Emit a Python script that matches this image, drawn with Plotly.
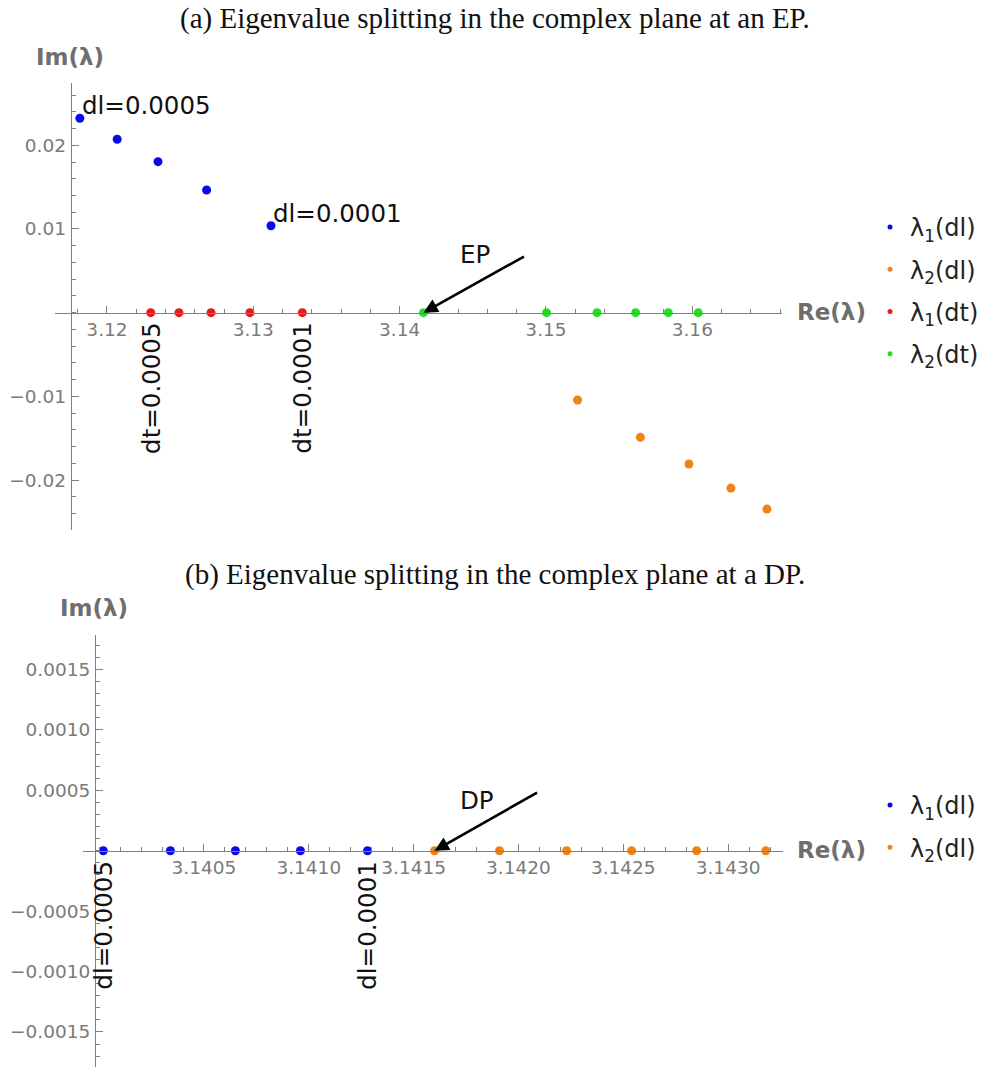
import plotly.graph_objects as go

# ---------------- data ----------------
# (a) EP
ep_l1_dl_re = [3.11815, 3.12070, 3.12349, 3.12681, 3.13121]
ep_l1_dl_im = [0.02323, 0.02072, 0.01804, 0.01466, 0.01039]
ep_l2_dl_re = [3.15216, 3.15645, 3.15977, 3.16264, 3.16510]
ep_l2_dl_im = [-0.01043, -0.01489, -0.01808, -0.02095, -0.02346]
ep_l1_dt_re = [3.12299, 3.12492, 3.12711, 3.12977, 3.13335]
ep_l1_dt_im = [0, 0, 0, 0, 0]
ep_l2_dt_re = [3.14163, 3.15004, 3.15349, 3.15613, 3.15836, 3.16041]
ep_l2_dt_im = [0, 0, 0, 0, 0, 0]
ep_point = (3.14163, 0.0)

# (b) DP
dp_l1_dl_re = [3.14002, 3.14034, 3.14065, 3.14096, 3.14128]
dp_l1_dl_im = [0, 0, 0, 0, 0]
dp_l2_dl_re = [3.14160, 3.14191, 3.14223, 3.14254, 3.14285, 3.14318]
dp_l2_dl_im = [0, 0, 0, 0, 0, 0]
dp_point = (3.14160, 0.0)

top_xticks = [3.12, 3.13, 3.14, 3.15, 3.16]
top_xticktext = ["3.12", "3.13", "3.14", "3.15", "3.16"]
top_yticks = [-0.02, -0.01, 0.01, 0.02]
top_yticktext = ["\u22120.02", "\u22120.01", "0.01", "0.02"]
bot_xticks = [3.1405, 3.1410, 3.1415, 3.1420, 3.1425, 3.1430]
bot_xticktext = ["3.1405", "3.1410", "3.1415", "3.1420", "3.1425", "3.1430"]
bot_yticks = [-0.0015, -0.0010, -0.0005, 0.0005, 0.0010, 0.0015]
bot_yticktext = ["\u22120.0015", "\u22120.0010", "\u22120.0005", "0.0005", "0.0010", "0.0015"]

legend_top = ["\u03bb<sub>1</sub>(dl)", "\u03bb<sub>2</sub>(dl)", "\u03bb<sub>1</sub>(dt)", "\u03bb<sub>2</sub>(dt)"]
legend_bot = ["\u03bb<sub>1</sub>(dl)", "\u03bb<sub>2</sub>(dl)"]

BLUE = "#0a0ae8"
ORANGE = "#ee8418"
RED = "#e31b1b"
GREEN = "#2adc2a"
GRAY = "#7a7a7a"
AXGRAY = "#808080"

W, H = 990, 1067

fig = go.Figure()

def pts(x, y, color, xa, ya):
    fig.add_trace(go.Scatter(x=x, y=y, mode="markers", xaxis=xa, yaxis=ya,
                             marker=dict(color=color, size=9, line=dict(width=0)),
                             showlegend=False, hoverinfo="skip"))

def leg(name, color, legend, group):
    fig.add_trace(go.Scatter(x=[None], y=[None], mode="markers", name=name,
                             legend=legend, legendgroup=group,
                             marker=dict(color=color, size=5), xaxis="x", yaxis="y"))

# top
pts(ep_l1_dl_re, ep_l1_dl_im, BLUE, "x", "y")
pts(ep_l2_dl_re, ep_l2_dl_im, ORANGE, "x", "y")
pts(ep_l1_dt_re, ep_l1_dt_im, RED, "x", "y")
pts(ep_l2_dt_re, ep_l2_dt_im, GREEN, "x", "y")
# bottom
pts(dp_l1_dl_re, dp_l1_dl_im, BLUE, "x2", "y2")
pts(dp_l2_dl_re, dp_l2_dl_im, ORANGE, "x2", "y2")

for n, c, g in zip(legend_top, [BLUE, ORANGE, RED, GREEN], ["a", "b", "c", "d"]):
    leg(n, c, "legend", g)
for n, c, g in zip(legend_bot, [BLUE, ORANGE], ["e", "f"]):
    leg(n, c, "legend2", g)

tickfont = dict(family="DejaVu Sans", size=18.5, color=GRAY)

def xax(domain, rng, pos, tv, tt, dminor):
    return dict(domain=domain, range=rng, anchor="free", position=pos,
                showgrid=False, zeroline=False, showline=True, linecolor=AXGRAY, linewidth=1,
                ticks="inside", ticklen=7, tickcolor=AXGRAY, tickmode="array",
                tickvals=tv, ticktext=tt, tickfont=tickfont,
                minor=dict(ticks="inside", ticklen=4, tickcolor=AXGRAY, dtick=dminor,
                           tick0=tv[0], showgrid=False),
                fixedrange=True)

def yax(domain, rng, pos, tv, tt, dminor):
    return dict(domain=domain, range=rng, anchor="free", position=pos,
                showgrid=False, zeroline=False, showline=True, linecolor=AXGRAY, linewidth=1,
                ticks="inside", ticklen=7, tickcolor=AXGRAY, tickmode="array",
                tickvals=tv, ticktext=tt, tickfont=tickfont, ticklabelstandoff=1,
                minor=dict(ticks="inside", ticklen=4, tickcolor=AXGRAY, dtick=dminor,
                           tick0=0, showgrid=False),
                fixedrange=True)

legfont = dict(family="DejaVu Sans", size=24, color="#222222")

fig.update_layout(
    width=W, height=H, margin=dict(l=0, r=0, t=0, b=0),
    paper_bgcolor="white", plot_bgcolor="rgba(0,0,0,0)",
    xaxis=xax([55 / W, 782 / W], [3.11645, 3.16613], 1 - 312.7 / H,
              top_xticks, top_xticktext, 0.002),
    yaxis=yax([1 - 530 / H, 1 - 83 / H], [-0.02596, 0.02744], 70.7 / W,
              top_yticks, top_yticktext, 0.002),
    xaxis2=xax([83 / W, 783 / W], [3.139923, 3.143262], 1 - 850.7 / H,
               bot_xticks, bot_xticktext, 0.0001),
    yaxis2=yax([0, 1 - 635 / H], [-0.00179, 0.001786], 95 / W,
               bot_yticks, bot_yticktext, 0.0001),
    legend=dict(x=870 / W, y=1 - 205 / H, xanchor="left", yanchor="top",
                font=legfont, tracegroupgap=8, bgcolor="rgba(0,0,0,0)", itemclick=False),
    legend2=dict(x=870 / W, y=1 - 783 / H, xanchor="left", yanchor="top",
                 font=legfont, tracegroupgap=8, bgcolor="rgba(0,0,0,0)", itemclick=False),
    showlegend=True,
)

ann = []
serif = dict(family="Liberation Serif", size=29, color="#111111")
ann.append(dict(text="(a) Eigenvalue splitting in the complex plane at an EP.", x=0.5, y=1,
                xref="paper", yref="paper", showarrow=False, font=serif, xanchor="center", yanchor="top"))
ann.append(dict(text="(b) Eigenvalue splitting in the complex plane at a DP.", x=0.5, y=1 - 574 / H,
                xref="paper", yref="paper", showarrow=False, font=serif, xanchor="center", yanchor="middle"))

axlab = dict(family="DejaVu Sans", size=23, color="#6e6e6e")
ann.append(dict(text="<b>Im(\u03bb)</b>", x=70 / W, y=1 - 57 / H, xref="paper", yref="paper",
                showarrow=False, font=axlab, xanchor="center", yanchor="middle"))
ann.append(dict(text="<b>Re(\u03bb)</b>", x=795 / W, y=1 - 312 / H, xref="paper", yref="paper",
                showarrow=False, font=axlab, xanchor="left", yanchor="middle"))
ann.append(dict(text="<b>Im(\u03bb)</b>", x=94 / W, y=1 - 608 / H, xref="paper", yref="paper",
                showarrow=False, font=axlab, xanchor="center", yanchor="middle"))
ann.append(dict(text="<b>Re(\u03bb)</b>", x=795 / W, y=1 - 850 / H, xref="paper", yref="paper",
                showarrow=False, font=axlab, xanchor="left", yanchor="middle"))

lab = dict(family="DejaVu Sans", size=24.5, color="#111111")
# top labels
ann.append(dict(text="dl=0.0005", x=ep_l1_dl_re[0], y=ep_l1_dl_im[0], xref="x", yref="y",
                showarrow=False, font=lab, xanchor="left", yanchor="bottom", xshift=0, yshift=-4))
ann.append(dict(text="dl=0.0001", x=ep_l1_dl_re[-1], y=ep_l1_dl_im[-1], xref="x", yref="y",
                showarrow=False, font=lab, xanchor="left", yanchor="bottom", xshift=0, yshift=-4))
ann.append(dict(text="dt=0.0005", x=ep_l1_dt_re[0], y=0, xref="x", yref="y", textangle=-90,
                showarrow=False, font=lab, xanchor="center", yanchor="top", yshift=-8))
ann.append(dict(text="dt=0.0001", x=ep_l1_dt_re[-1], y=0, xref="x", yref="y", textangle=-90,
                showarrow=False, font=lab, xanchor="center", yanchor="top", yshift=-8))
ann.append(dict(text="EP", x=ep_point[0], y=ep_point[1], xref="x", yref="y", showarrow=False,
                font=lab, xanchor="center", yanchor="middle", xshift=52, yshift=58))
ann.append(dict(text="", x=ep_point[0], y=ep_point[1], xref="x", yref="y", showarrow=True,
                ax=102, ay=-57, arrowhead=2, arrowsize=1.1, arrowwidth=2.6, arrowcolor="#000000",
                standoff=0))
# bottom labels
ann.append(dict(text="dl=0.0005", x=dp_l1_dl_re[0], y=0, xref="x2", yref="y2", textangle=-90,
                showarrow=False, font=lab, xanchor="center", yanchor="top", yshift=-8))
ann.append(dict(text="dl=0.0001", x=dp_l1_dl_re[-1], y=0, xref="x2", yref="y2", textangle=-90,
                showarrow=False, font=lab, xanchor="center", yanchor="top", yshift=-8))
ann.append(dict(text="DP", x=dp_point[0], y=dp_point[1], xref="x2", yref="y2", showarrow=False,
                font=lab, xanchor="center", yanchor="middle", xshift=42, yshift=50))
ann.append(dict(text="", x=dp_point[0], y=dp_point[1], xref="x2", yref="y2", showarrow=True,
                ax=104, ay=-59, arrowhead=2, arrowsize=1.1, arrowwidth=2.6, arrowcolor="#000000",
                standoff=0))

fig.update_layout(annotations=ann)
fig.write_html("out.html")
